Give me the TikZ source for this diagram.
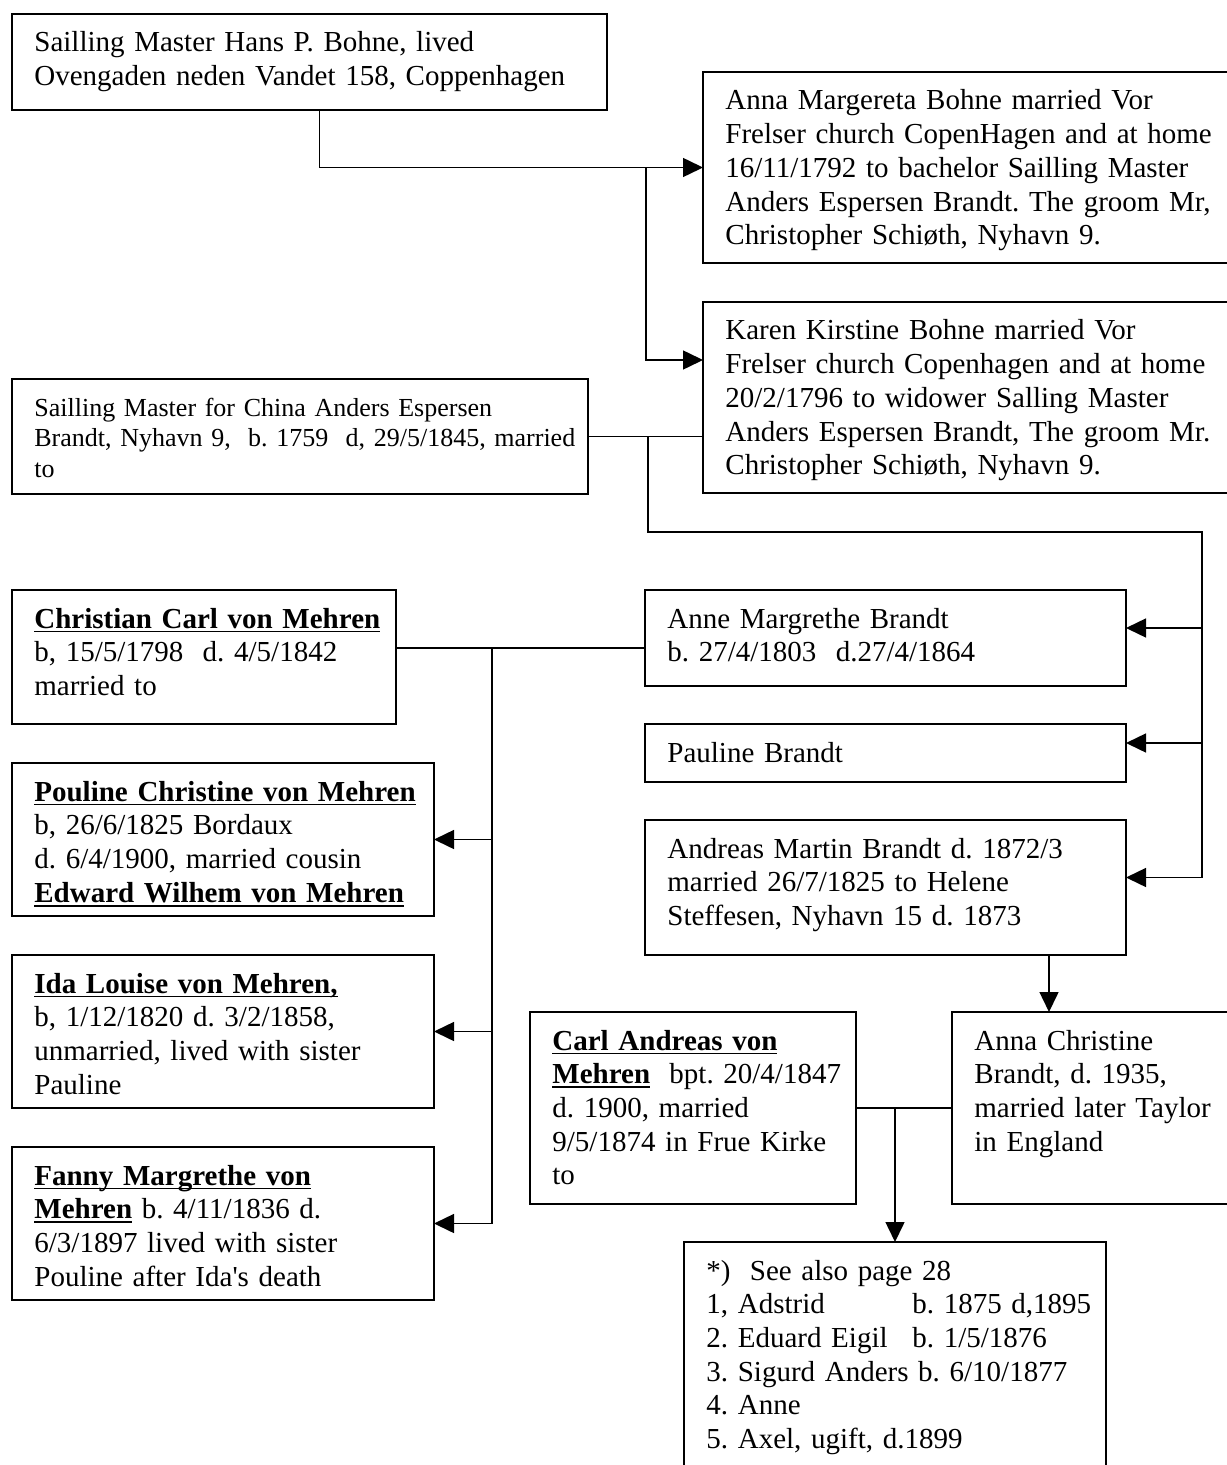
\documentclass[tikz,border=0pt]{standalone}
\usepackage{fontspec}
\setmainfont{Liberation Serif}
\usetikzlibrary{arrows.meta}

% bold, underlined name (line at a fixed depth, as in the scan)
\newsavebox\namebox
\newcommand{\ulname}[1]{\leavevmode\sbox\namebox{\textbf{#1}}\rlap{\rule[-2.2pt]{\wd\namebox}{0.9pt}}\usebox\namebox}

\begin{document}
\frenchspacing
\begin{tikzpicture}[x=0.5pt, y=-0.5pt,
    box/.style={draw, line width=0.9pt, anchor=north west, inner sep=0pt, outer sep=0pt},
    txt/.style={anchor=base west, inner sep=0pt, text width=280pt, align=left,
                font=\fontsize{14.5}{16.85}\selectfont},
    small/.style={font=\fontsize{13}{15.25}\selectfont},
    link/.style={line width=0.75pt},
    arr/.style={link, -{Triangle[length=10pt, width=9.5pt]}}]

    \useasboundingbox (0,0) rectangle (1226,1465);

    % Bohne family
    \node[box, minimum width=297.5pt, minimum height=48pt] (hans) at (12,14) {};
    \node[txt] (hans-t) at ([xshift=11pt,yshift=-19pt]hans.north west)
        {Sailling Master Hans P. Bohne, lived\\Ovengaden neden Vandet 158, Coppenhagen};

    \node[box, minimum width=280pt, minimum height=95.5pt] (annam) at (703,72) {};
    \node[txt] (annam-t) at ([xshift=11pt,yshift=-19pt]annam.north west)
        {Anna Margereta Bohne married Vor\\Frelser church CopenHagen and at home\\16/11/1792 to bachelor Sailling Master\\Anders Espersen Brandt. The groom Mr,\\Christopher Schiøth, Nyhavn 9.};

    \node[box, minimum width=280pt, minimum height=95.5pt] (karen) at (703,302) {};
    \node[txt] (karen-t) at ([xshift=11pt,yshift=-19pt]karen.north west)
        {Karen Kirstine Bohne married Vor\\Frelser church Copenhagen and at home\\20/2/1796 to widower Salling Master\\Anders Espersen Brandt, The groom Mr.\\Christopher Schiøth, Nyhavn 9.};

    \node[box, minimum width=288pt, minimum height=57.5pt] (anders) at (12,379) {};
    \node[txt, small] (anders-t) at ([xshift=11pt,yshift=-18.5pt]anders.north west)
        {Sailling Master for China Anders Espersen\\Brandt, Nyhavn 9,\ \ b. 1759\ \ d, 29/5/1845, married\\to};

    % Brandt children
    \node[box, minimum width=240.5pt, minimum height=48pt] (anne) at (645,590) {};
    \node[txt] (anne-t) at ([xshift=11pt,yshift=-19pt]anne.north west)
        {Anne Margrethe Brandt\\b. 27/4/1803\ \ d.27/4/1864};

    \node[box, minimum width=240.5pt, minimum height=29pt] (pauline) at (645,724) {};
    \node[txt] (pauline-t) at ([xshift=11pt,yshift=-19pt]pauline.north west) {Pauline Brandt};

    \node[box, minimum width=240.5pt, minimum height=67.5pt] (andreas) at (645,820) {};
    \node[txt] (andreas-t) at ([xshift=11pt,yshift=-19pt]andreas.north west)
        {Andreas Martin Brandt d. 1872/3\\married 26/7/1825 to Helene\\Steffesen, Nyhavn 15 d. 1873};

    % von Mehren
    \node[box, minimum width=192pt, minimum height=67pt] (christian) at (12,590) {};
    \node[txt] (christian-t) at ([xshift=11pt,yshift=-19pt]christian.north west)
        {\ulname{Christian Carl von Mehren}\\b, 15/5/1798\ \ d. 4/5/1842\\married to};

    \node[box, minimum width=211pt, minimum height=76.5pt] (pouline) at (12,763) {};
    \node[txt] (pouline-t) at ([xshift=11pt,yshift=-19pt]pouline.north west)
        {\ulname{Pouline Christine von Mehren}\\b, 26/6/1825 Bordaux\\d. 6/4/1900, married cousin\\\ulname{Edward Wilhem von Mehren}};

    \node[box, minimum width=211pt, minimum height=76.5pt] (ida) at (12,955) {};
    \node[txt] (ida-t) at ([xshift=11pt,yshift=-19pt]ida.north west)
        {\ulname{Ida Louise von Mehren,}\\b, 1/12/1820 d. 3/2/1858,\\unmarried, lived with sister\\Pauline};

    \node[box, minimum width=211pt, minimum height=76.5pt] (fanny) at (12,1147) {};
    \node[txt] (fanny-t) at ([xshift=11pt,yshift=-19pt]fanny.north west)
        {\ulname{Fanny Margrethe von}\\\ulname{Mehren} b. 4/11/1836 d.\\6/3/1897 lived with sister\\Pouline after Ida\textquotesingle s death};

    \node[box, minimum width=163pt, minimum height=96pt] (carl) at (530,1012) {};
    \node[txt] (carl-t) at ([xshift=11pt,yshift=-19pt]carl.north west)
        {\ulname{Carl Andreas von}\\\ulname{Mehren}\ \ bpt. 20/4/1847\\d. 1900, married\\9/5/1874 in Frue Kirke\\to};

    \node[box, minimum width=150pt, minimum height=96pt] (annac) at (952,1012) {};
    \node[txt] (annac-t) at ([xshift=11pt,yshift=-19pt]annac.north west)
        {Anna Christine\\Brandt, d. 1935,\\married later Taylor\\in England};

    \node[box, minimum width=211pt, minimum height=125pt] (kids) at (684,1242) {};
    \node[txt] (kids-t) at ([xshift=11pt,yshift=-19pt]kids.north west)
        {*)\ \ See also page 28\\\makebox[103pt][l]{1, Adstrid}b. 1875 d,1895\\\makebox[103pt][l]{2. Eduard Eigil}b. 1/5/1876\\3. Sigurd Anders b. 6/10/1877\\4. Anne\\5. Axel, ugift, d.1899};

    % Junctions
    \coordinate (j1) at (646,167.5);
    \coordinate (wed1) at (648,436.5);
    \coordinate (bus) at (1202,532);
    \coordinate (wed2) at (492,648);
    \coordinate (d3) at (1049,0);
    \coordinate (wed4) at (895,1108);

    % Hans P. Bohne -> daughters
    \draw[arr] ([xshift=5pt]hans.south) |- (annam.west);
    \path ([yshift=18.75pt]karen.west) coordinate (karen-in);
    \draw[arr] (j1) |- (karen-in);

    % Anders + Karen -> children
    \draw[link] (anders.east) -- (anders.east -| karen.west);
    \foreach \k in {anne,pauline,andreas}
        \path ([yshift=5pt]\k.east) coordinate (\k-in);
    \draw[link] (wed1) |- (bus) -- (bus |- andreas-in);
    \foreach \k in {anne,pauline,andreas}
        \draw[arr] (\k-in -| bus) -- (\k-in);

    % Christian Carl + Anne Margrethe -> daughters
    \draw[link] (christian.east |- wed2) -- (anne.west |- wed2);
    \draw[link] (wed2) -- (wed2 |- fanny.east);
    \foreach \k in {pouline,ida,fanny}
        \draw[arr] (wed2 |- \k.east) -- (\k.east);

    % Andreas Martin -> Anna Christine
    \draw[arr] (andreas.south -| d3) -- (annac.north -| d3);

    % Carl Andreas + Anna Christine -> children
    \draw[link] (carl.east) -- (carl.east -| annac.west);
    \draw[arr] (wed4) -- (kids.north);

\end{tikzpicture}
\end{document}
